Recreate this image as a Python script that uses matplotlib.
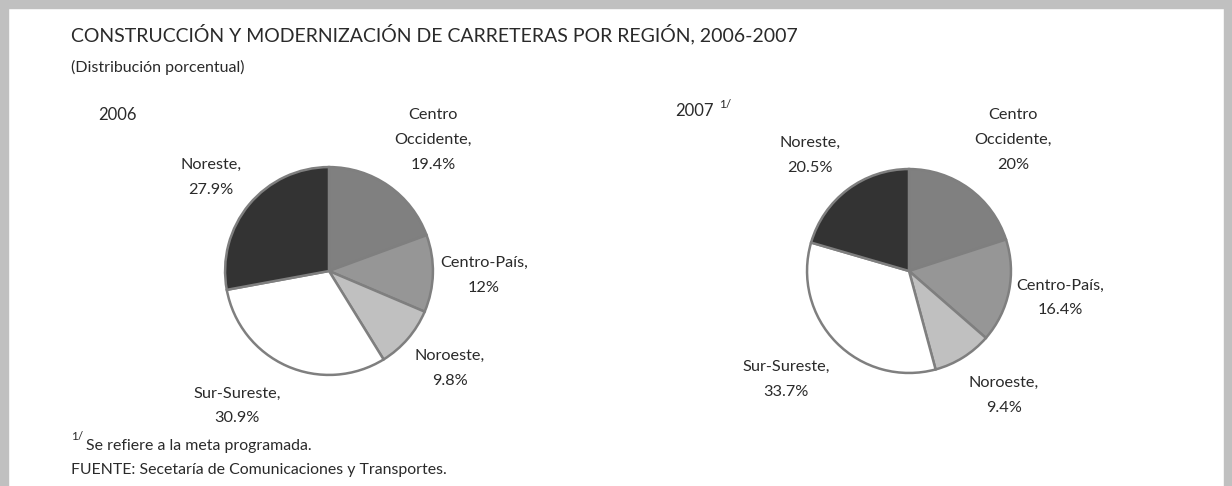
import matplotlib.pyplot as plt
from matplotlib.patches import Rectangle

plt.rcParams['font.family'] = ['Lato', 'DejaVu Sans']

# datos
regiones = ['Centro\nOccidente', 'Centro-País', 'Noroeste', 'Sur-Sureste', 'Noreste']
v2006 = [19.4, 12, 9.8, 30.9, 27.9]
v2007 = [20, 16.4, 9.4, 33.7, 20.5]
colores = ['#808080', '#969696', '#c0c0c0', '#ffffff', '#333333']

W, H = 1232, 486
fig = plt.figure(figsize=(W / 100, H / 100), dpi=100)
fig.patch.set_facecolor('white')


def fx(px):
    return px / W


def fy(py):
    return 1 - py / H


# marco gris
borde = '#c0c0c0'
fig.patches.append(Rectangle((0, fy(8)), 1, 8 / H, transform=fig.transFigure, color=borde))
fig.patches.append(Rectangle((0, 0), 8 / W, 1, transform=fig.transFigure, color=borde))
fig.patches.append(Rectangle((1 - 8 / W, 0), 8 / W, 1, transform=fig.transFigure, color=borde))


def pastel(cx, cy, r, valores):
    ax = fig.add_axes([fx(cx - r), fy(cy + r), fx(2 * r), 2 * r / H])
    ax.pie(valores, colors=colores, startangle=90, counterclock=False,
           wedgeprops=dict(edgecolor='#7f7f7f', linewidth=1.8))
    ax.set_xlim(-1.02, 1.02)
    ax.set_ylim(-1.02, 1.02)
    ax.set_aspect('auto')
    ax.axis('off')


pastel(329, 271, 106, v2006)
pastel(909, 271, 104, v2007)

# posiciones de etiquetas (pixeles, centro del bloque)
pos2006 = [(433, 140), (484, 275), (450, 368), (237, 406), (211, 177)]
pos2007 = [(1013, 140), (1060, 298), (1004, 395), (786, 379), (810, 155)]

tc = '#2a2a2a'
fs = 11.7
for pos, vals in ((pos2006, v2006), (pos2007, v2007)):
    for nombre, v, (x, y) in zip(regiones, vals, pos):
        fig.text(fx(x), fy(y), f'{nombre},\n{v:g}%', ha='center', va='center',
                 fontsize=fs, color=tc, linespacing=2.0)

fig.text(fx(71), fy(34), 'CONSTRUCCIÓN Y MODERNIZACIÓN DE CARRETERAS POR REGIÓN, 2006-2007',
         ha='left', va='center', fontsize=14, color=tc)
fig.text(fx(71), fy(67), '(Distribución porcentual)', ha='left', va='center',
         fontsize=11.5, color=tc)
fig.text(fx(98), fy(115), '2006', ha='left', va='center', fontsize=12, color=tc)
fig.text(fx(675), fy(111), '2007', ha='left', va='center', fontsize=12, color=tc)
fig.text(fx(719), fy(104), '1/', ha='left', va='center', fontsize=8.5, color=tc)

fig.text(fx(71), fy(436), '1/', ha='left', va='center', fontsize=8.5, color=tc)
fig.text(fx(86), fy(446), 'Se refiere a la meta programada.', ha='left', va='center',
         fontsize=11.4, color=tc)
fig.text(fx(71), fy(470), 'FUENTE: Secetaría de Comunicaciones y Transportes.', ha='left',
         va='center', fontsize=11.4, color=tc)

fig.savefig('out.png', dpi=100)
